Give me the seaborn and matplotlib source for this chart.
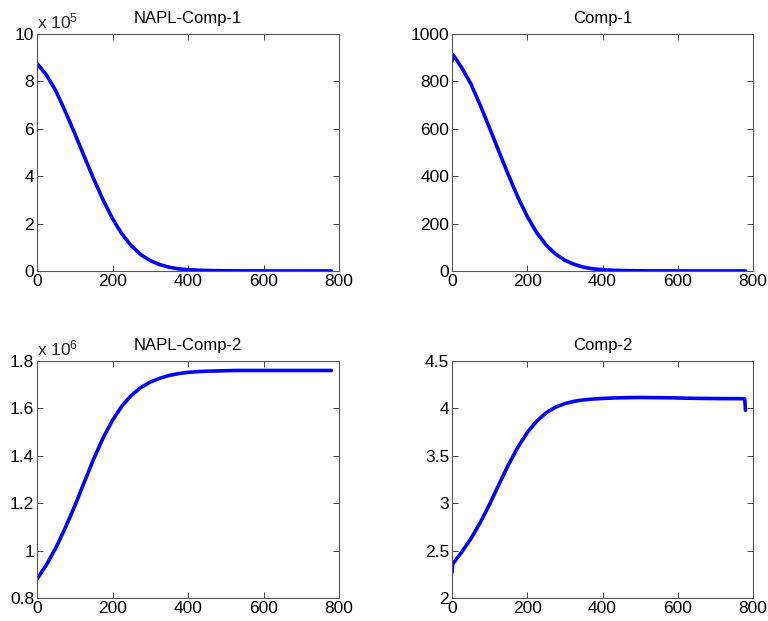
import matplotlib
matplotlib.use("Agg")
import matplotlib.pyplot as plt
import seaborn as sns
import pandas as pd

# ---------------- data ----------------
x_main = [0, 25, 50, 75, 100, 125, 150, 175, 200, 225, 250, 275, 300, 325, 350,
          375, 400, 425, 450, 475, 500, 525, 550, 575, 600, 625, 650, 675, 700,
          725, 750, 775, 780]

# NAPL-Comp-1 (units of 1e5)
napl1 = [8.76, 8.27, 7.60, 6.73, 5.80, 4.84, 3.89, 3.00, 2.21, 1.56, 1.06, 0.69,
         0.44, 0.27, 0.16, 0.09, 0.055, 0.035, 0.022, 0.014, 0.009, 0.006, 0.004,
         0.003, 0.003, 0.002, 0.002, 0.002, 0.001, 0.001, 0.001, 0.001, 0.001]

# Comp-1
x_comp1 = [0, 3, 25, 50, 75, 100, 125, 150, 175, 200, 225, 250, 275, 300, 325, 350,
           375, 400, 425, 450, 475, 500, 525, 550, 575, 600, 625, 650, 675, 700,
           725, 750, 775, 780]
comp1 = [885, 912, 860, 790, 700, 603, 503, 405, 312, 230, 162, 110, 72, 45, 28, 16,
         9, 5.5, 3.3, 2.0, 1.3, 0.8, 0.5, 0.4, 0.3, 0.3, 0.2, 0.2, 0.2, 0.2,
         0.2, 0.2, 0.2, 0.2]

# NAPL-Comp-2 (units of 1e6)
napl2 = [0.880, 0.940, 1.012, 1.096, 1.188, 1.288, 1.386, 1.475, 1.550, 1.610,
         1.655, 1.688, 1.711, 1.727, 1.739, 1.747, 1.752, 1.755, 1.757, 1.758,
         1.759, 1.760, 1.760, 1.760, 1.760, 1.760, 1.760, 1.760, 1.760, 1.760,
         1.760, 1.760, 1.760]

# Comp-2
x_comp2 = [0, 2, 25, 50, 75, 100, 125, 150, 175, 200, 225, 250, 275, 300, 325, 350,
           375, 400, 425, 450, 475, 500, 525, 550, 575, 600, 625, 650, 675, 700,
           725, 750, 775, 778, 780]
comp2 = [2.27, 2.36, 2.48, 2.625, 2.795, 2.99, 3.20, 3.405, 3.59, 3.745, 3.865,
         3.953, 4.013, 4.051, 4.075, 4.090, 4.099, 4.105, 4.109, 4.112, 4.114, 4.115,
         4.114, 4.113, 4.112, 4.11, 4.108, 4.106, 4.105, 4.104, 4.103, 4.103,
         4.102, 4.10, 3.98]

titles = ["NAPL-Comp-1", "Comp-1", "NAPL-Comp-2", "Comp-2"]
x_ticks = [0, 200, 400, 600, 800]
y_ticks = [[0, 2, 4, 6, 8, 10],
           [0, 200, 400, 600, 800, 1000],
           [0.8, 1.0, 1.2, 1.4, 1.6, 1.8],
           [2, 2.5, 3, 3.5, 4, 4.5]]
y_ticklabels = [["0", "2", "4", "6", "8", "10"],
                ["0", "200", "400", "600", "800", "1000"],
                ["0.8", "1", "1.2", "1.4", "1.6", "1.8"],
                ["2", "2.5", "3", "3.5", "4", "4.5"]]
exponents = ["5", None, "6", None]

# ---------------- style ----------------
sns.set_style("ticks")
plt.rcParams['font.family'] = ['Liberation Sans', 'DejaVu Sans']
plt.rcParams['mathtext.fontset'] = 'custom'
plt.rcParams['mathtext.rm'] = 'Liberation Sans'
plt.rcParams['mathtext.it'] = 'Liberation Sans'

fig = plt.figure(figsize=(7.68, 6.21), dpi=100)
W, H = 768, 621
boxes = [(37, 34, 339, 271), (452, 34, 753, 271),
         (37, 361, 339, 598), (452, 361, 753, 598)]

series = [(x_main, napl1), (x_comp1, comp1), (x_main, napl2), (x_comp2, comp2)]

for i, (x0, y0, x1, y1) in enumerate(boxes):
    ax = fig.add_axes([x0 / W, 1 - y1 / H, (x1 - x0) / W, (y1 - y0) / H])
    xs, ys = series[i]
    df = pd.DataFrame({"t": xs, "v": ys})
    sns.lineplot(data=df, x="t", y="v", ax=ax, color=(0, 0, 1), linewidth=2.6,
                 estimator=None, sort=False)
    ax.set_xlim(0, 800)
    ax.set_ylim(y_ticks[i][0], y_ticks[i][-1])
    ax.set_xticks(x_ticks)
    ax.set_xticklabels([str(t) for t in x_ticks])
    ax.set_yticks(y_ticks[i])
    ax.set_yticklabels(y_ticklabels[i])
    ax.set_xlabel("")
    ax.set_ylabel("")
    ax.set_title(titles[i], fontsize=12, pad=8, color="black")
    ax.tick_params(direction="in", length=4, width=0.7, top=True, right=True,
                   labelsize=12.5, colors="#444444", labelcolor="black", pad=2)
    for s in ax.spines.values():
        s.set_visible(True)
        s.set_color("#555555")
        s.set_linewidth(0.8)
    if exponents[i]:
        ax.text(0.0, 1.01, r"x 10$^{%s}$" % exponents[i], transform=ax.transAxes,
                ha="left", va="bottom", fontsize=12.5)

fig.savefig("out.png", dpi=100)
